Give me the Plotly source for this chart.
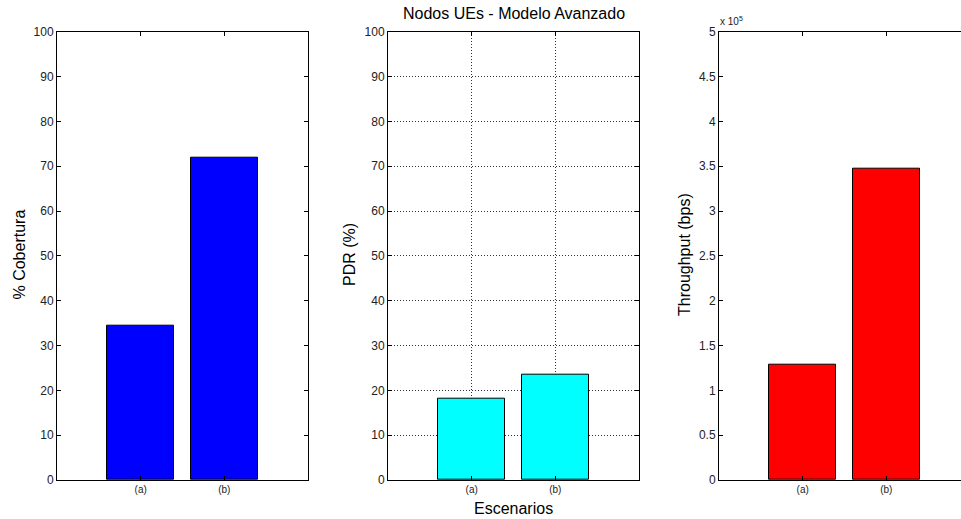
import plotly.graph_objects as go

# Scenario categories and measured results
escenarios = ["(a)", "(b)"]
cobertura = [34.4, 72.0]          # % coverage
pdr = [18.2, 23.5]                # packet delivery ratio (%)
throughput = [1.29e5, 3.475e5]    # bps

W, H = 961, 519
FONT = "Liberation Sans, Arial, sans-serif"

fig = go.Figure()

xpos = [1, 2]
fig.add_trace(go.Bar(x=xpos, y=cobertura, width=0.8, xaxis="x", yaxis="y",
                     marker=dict(color="#0000ff", line=dict(color="black", width=1))))
fig.add_trace(go.Bar(x=xpos, y=pdr, width=0.8, xaxis="x2", yaxis="y2",
                     marker=dict(color="#00ffff", line=dict(color="black", width=1))))
fig.add_trace(go.Bar(x=xpos, y=[v / 1e5 for v in throughput], width=0.8, xaxis="x3", yaxis="y3",
                     marker=dict(color="#ff0000", line=dict(color="black", width=1))))

ydom = [(H - 480) / H, (H - 31.7) / H]
xdoms = [[57 / W, 308 / W], [388 / W, 639 / W], [719 / W, 1.0]]
DOTS = "1px,2px"

def xax(dom, rng, anchor, grid=False):
    return dict(domain=dom, range=rng, anchor=anchor, automargin=False,
                tickmode="array", tickvals=xpos, ticktext=escenarios,
                ticks="inside", ticklen=4, tickcolor="black", showline=True, linecolor="black",
                linewidth=1, mirror="ticks", showgrid=grid, gridcolor="#333", griddash=DOTS,
                gridwidth=1, zeroline=False, tickfont=dict(size=10, color="#222", family=FONT),
                fixedrange=True)

def yax(dom, rng, dtick, anchor, grid=False, mirror="ticks"):
    return dict(domain=dom, range=rng, dtick=dtick, anchor=anchor, automargin=False,
                ticks="inside", ticklen=4,
                tickcolor="black", showline=True, linecolor="black", linewidth=1, mirror=mirror,
                showgrid=grid, gridcolor="#333", griddash=DOTS, gridwidth=1, zeroline=False,
                tickfont=dict(size=12, color="#222", family=FONT), fixedrange=True)

fig.update_layout(
    width=W, height=H, margin=dict(l=0, r=0, t=0, b=0, autoexpand=False),
    paper_bgcolor="white", plot_bgcolor="white", showlegend=False, bargap=0,
    font=dict(family=FONT, color="black"),
    xaxis=xax(xdoms[0], [0, 3], "y"),
    yaxis=yax(ydom, [0, 100], 10, "x"),
    xaxis2=xax(xdoms[1], [0, 3], "y2", grid=True),
    yaxis2=yax(ydom, [0, 100], 10, "x2", grid=True),
    xaxis3=xax(xdoms[2], [0, 242 / 83.67], "y3"),
    yaxis3=yax(ydom, [0, 5], 0.5, "x3", mirror=False),
)

ymid = (H - 255) / H
ann = [
    dict(text="% Cobertura", x=18.5 / W, y=ymid, textangle=-90, font=dict(size=16)),
    dict(text="PDR (%)", x=349 / W, y=ymid, textangle=-90, font=dict(size=16)),
    dict(text="Throughput (bps)", x=684 / W, y=ymid, textangle=-90, font=dict(size=16)),
    dict(text="Nodos UEs - Modelo Avanzado", x=513.5 / W, y=(H - 13) / H, font=dict(size=16)),
    dict(text="Escenarios", x=513.5 / W, y=(H - 508) / H, font=dict(size=16)),
    dict(text="x 10<sup>5</sup>", x=718 / W, y=(H - 21) / H, xanchor="left",
         font=dict(size=10, color="#222")),
]
for a in ann:
    a.setdefault("xanchor", "center")
    a.update(xref="paper", yref="paper", showarrow=False, yanchor="middle")
fig.update_layout(annotations=ann)

fig.write_html("out.html")
